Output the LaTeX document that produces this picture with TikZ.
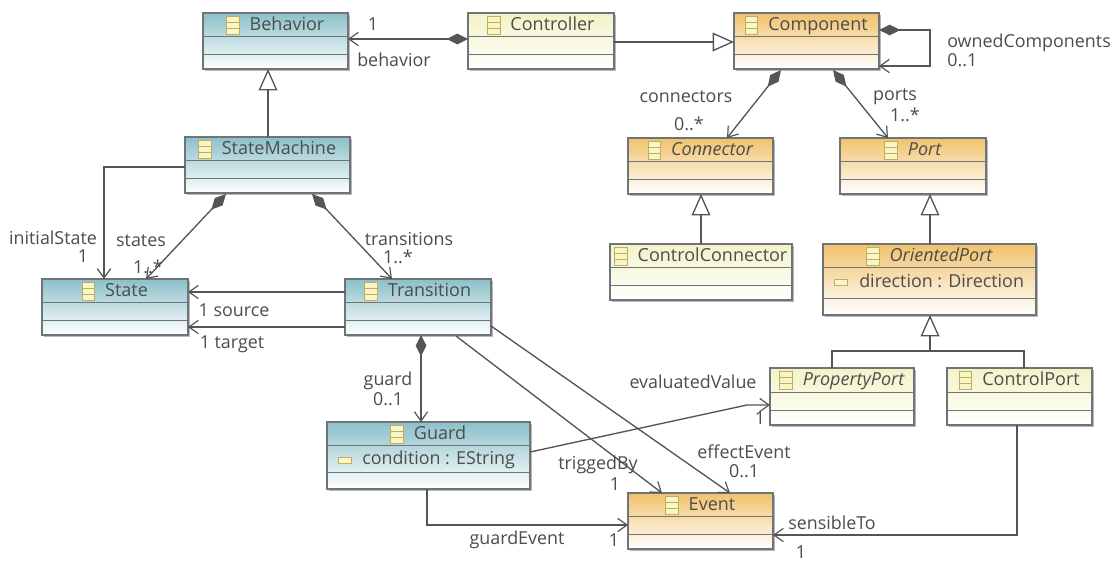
\documentclass[tikz,border=0pt]{standalone}
\usepackage{fontspec}
\setmainfont{Open Sans}
\usetikzlibrary{arrows.meta,shadows,calc}
\definecolor{inkc}{HTML}{4C4C4C}
\definecolor{linec}{HTML}{555555}
\definecolor{framec}{HTML}{6E7478}
\tikzset{
  x=0.75pt,y=-0.75pt,
  classbase/.style={draw=framec,line width=0.9pt,inner sep=0pt,outer sep=0pt,
    general shadow={shadow xshift=1.6pt,shadow yshift=-1.6pt,fill=black!28}},
  tealbox/.style={classbase,top color=tealtop,bottom color=white},
  yellowbox/.style={classbase,top color=yellowtop,bottom color=white},
  orangebox/.style={classbase,top color=orangetop,bottom color=white},
  titletext/.style={font=\fontsize{13.5pt}{15pt}\selectfont,text=inkc,inner sep=0pt,outer sep=0pt,text height=10pt,text depth=3pt},
  attrtext/.style={font=\fontsize{13.4pt}{15pt}\selectfont,text=inkc,inner sep=0pt,anchor=west,text height=10pt,text depth=3pt},
  lbl/.style={font=\fontsize{13.4pt}{15pt}\selectfont,text=inkc,inner sep=0pt},
  iconbox/.style={draw=iconline,fill=iconfill,line width=0.7pt,minimum width=9.5pt,minimum height=13.5pt,inner sep=0pt,
    path picture={\draw[iconline,line width=0.6pt]
      ($(path picture bounding box.west)!0.33!(path picture bounding box.north west)$) -- ++(10pt,0)
      ($(path picture bounding box.west)!0.33!(path picture bounding box.south west)$) -- ++(10pt,0);}},
  attricon/.style={draw=iconline,fill=iconfill,line width=0.6pt,minimum width=9.5pt,minimum height=4.5pt,inner sep=0pt},
  conn/.style={draw=linec,line width=1pt},
  toarrow/.style={conn,-{Straight Barb[length=7pt,width=10pt,line width=0.9pt]}},
  comp/.style={conn,{Diamond[length=16pt,width=8pt,fill=linec]}-{Straight Barb[length=7pt,width=10pt,line width=0.9pt]}},
  inherit/.style={conn,-{Triangle[open,length=16pt,width=14pt,fill=white]}},
  compartment/.style={draw=framec,line width=0.7pt},
}
\definecolor{tealtop}{HTML}{8CC0C9}
\definecolor{yellowtop}{HTML}{F3F3C8}
\definecolor{orangetop}{HTML}{F1C26C}
\definecolor{iconline}{HTML}{BDAF62}
\definecolor{iconfill}{HTML}{FBF4C4}
\newcommand{\umlclass}[9]{%
  \pgfmathsetlengthmacro{\boxw}{(#4-#2)*0.75pt}%
  \pgfmathsetlengthmacro{\boxh}{(#5-#3)*0.75pt}%
  \node[#8,minimum width=\boxw,minimum height=\boxh] (#1) at ({(#2+#4)/2},{(#3+#5)/2}) {};
  \draw[compartment] (#1.west |- 0,#6) -- (#1.east |- 0,#6);
  \draw[compartment] (#1.west |- 0,#7) -- (#1.east |- 0,#7);
  \node[titletext,anchor=center] (#1-t) at ({(#2+#4)/2+11.5},{#3+12.8}) {#9};
  \node[iconbox,anchor=east] (#1-i) at ([xshift=-7.5pt]#1-t.west) {};
}
\begin{document}
\begin{tikzpicture}
\useasboundingbox (0,0) rectangle (1120,561);
\fill[white] (0,0) rectangle (1120,561);

\umlclass{behavior}{203}{13}{348}{69}{36}{54}{tealbox}{Behavior}
\umlclass{controller}{468}{13}{614}{69}{36}{54}{yellowbox}{Controller}
\umlclass{component}{734}{13}{879}{69}{36}{54}{orangebox}{Component}
\umlclass{statemachine}{185}{137}{350}{193}{160}{178}{tealbox}{StateMachine}
\umlclass{connector}{628}{138}{773}{194}{161}{179}{orangebox}{\itshape Connector}
\umlclass{port}{840}{138}{986}{194}{161}{179}{orangebox}{\itshape Port}
\umlclass{controlconnector}{610}{244}{792}{300}{267}{285}{yellowbox}{ControlConnector}
\umlclass{orientedport}{823}{244}{1036}{315}{267}{298}{orangebox}{\itshape OrientedPort}
\umlclass{state}{42}{279}{188}{335}{302}{320}{tealbox}{State}
\umlclass{transition}{345}{279}{491}{335}{302}{320}{tealbox}{Transition}
\umlclass{guard}{327}{422}{530}{489}{445}{472}{tealbox}{Guard}
\umlclass{propertyport}{770}{368}{914}{425}{392}{410}{yellowbox}{\itshape PropertyPort}
\umlclass{controlport}{947}{368}{1092}{425}{392}{410}{yellowbox}{ControlPort}
\umlclass{event}{628}{493}{773}{549}{516}{534}{orangebox}{Event}

\node[attricon] (guard-ai) at (345,460) {};
\node[attrtext] (guard-a) at (362,460) {condition : EString};
\node[attricon] (oport-ai) at (841,282) {};
\node[attrtext] (oport-a) at (859,283) {direction : Direction};

% free ends and bend points
\coordinate (sm-d1) at (226,194);
\coordinate (st-a1) at (146,279);
\coordinate (sm-d2) at (312,194);
\coordinate (tr-a1) at (392,279);
\coordinate (co-d1) at (781,70);
\coordinate (cn-a1) at (727,138);
\coordinate (co-d2) at (833,70);
\coordinate (po-a1) at (888,138);
\coordinate (tr-s1) at (456,336);
\coordinate (ev-a1) at (662,493);
\coordinate (tr-s2) at (491,326);
\coordinate (ev-a2) at (730,493);
\coordinate (gu-s1) at (530,452);
\coordinate (pp-b1) at (747,405);
\coordinate (oport-j) at (930,351);

% connectors
\draw[comp] (controller.west |- 0,39) -- (behavior.east |- 0,39);
\draw[inherit] (controller.east |- 0,42) -- (component.west |- 0,42);
\draw[comp] (component.east |- 0,30) -- (930,30) -- (930,66) -- (component.east |- 0,66);
\draw[comp] (co-d1) -- (cn-a1);
\draw[comp] (co-d2) -- (po-a1);
\draw[inherit] (statemachine.north -| 268,0) -- (behavior.south -| 268,0);
\draw[toarrow] (statemachine.west |- 0,167) -- (104,167) -- (state.north -| 104,0);
\draw[comp] (sm-d1) -- (st-a1);
\draw[comp] (sm-d2) -- (tr-a1);
\draw[toarrow] (transition.west |- 0,292) -- (state.east |- 0,292);
\draw[toarrow] (transition.west |- 0,327) -- (state.east |- 0,327);
\draw[comp] (transition.south -| 421,0) -- (guard.north -| 421,0);
\draw[toarrow] (tr-s1) -- (ev-a1);
\draw[toarrow] (tr-s2) -- (ev-a2);
\draw[toarrow] (gu-s1) -- (pp-b1) -- (propertyport.west |- 0,405);
\draw[toarrow] (guard.south -| 427,0) -- (427,525) -- (event.west |- 0,525);
\draw[toarrow] (controlport.south -| 1017,0) -- (1017,535) -- (event.east |- 0,535);
\draw[inherit] (controlconnector.north -| 701,0) -- (connector.south -| 701,0);
\draw[inherit] (orientedport.north -| 930,0) -- (port.south -| 930,0);
\draw[inherit] (oport-j) -- (orientedport.south -| 930,0);
\draw[conn] (propertyport.north -| 832,0) -- (832,351) -- (1024,351) -- (controlport.north -| 1024,0);

% labels
\node[lbl] (l1) at (373,24) {1};
\node[lbl] (l2) at (394,60) {behavior};
\node[lbl,anchor=west] (l3) at (947,43) {ownedComponents};
\node[lbl,anchor=west] (l4) at (947,60) {0..1};
\node[lbl] (l5) at (686,97) {connectors};
\node[lbl] (l6) at (689,124) {0..*};
\node[lbl] (l7) at (895,97) {ports};
\node[lbl] (l8) at (905,115) {1..*};
\node[lbl] (l9) at (53,238) {initialState};
\node[lbl] (l10) at (83,256) {1};
\node[lbl] (l11) at (141,241) {states};
\node[lbl] (l12) at (148,267) {1..*};
\node[lbl] (l13) at (409,239) {transitions};
\node[lbl] (l14) at (398,257) {1..*};
\node[lbl] (l15) at (234,310) {1 source};
\node[lbl] (l16) at (232,344) {1 target};
\node[lbl] (l17) at (388,381) {guard};
\node[lbl] (l18) at (388,399) {0..1};
\node[lbl] (l19) at (598,465) {triggedBy};
\node[lbl] (l20) at (615,484) {1};
\node[lbl] (l21) at (744,452) {effectEvent};
\node[lbl] (l22) at (744,471) {0..1};
\node[lbl] (l23) at (693,382) {evaluatedValue};
\node[lbl] (l24) at (760,418) {1};
\node[lbl] (l25) at (517,540) {guardEvent};
\node[lbl] (l26) at (614,540) {1};
\node[lbl] (l27) at (832,523) {sensibleTo};
\node[lbl] (l28) at (801,552) {1};
\end{tikzpicture}
\end{document}
